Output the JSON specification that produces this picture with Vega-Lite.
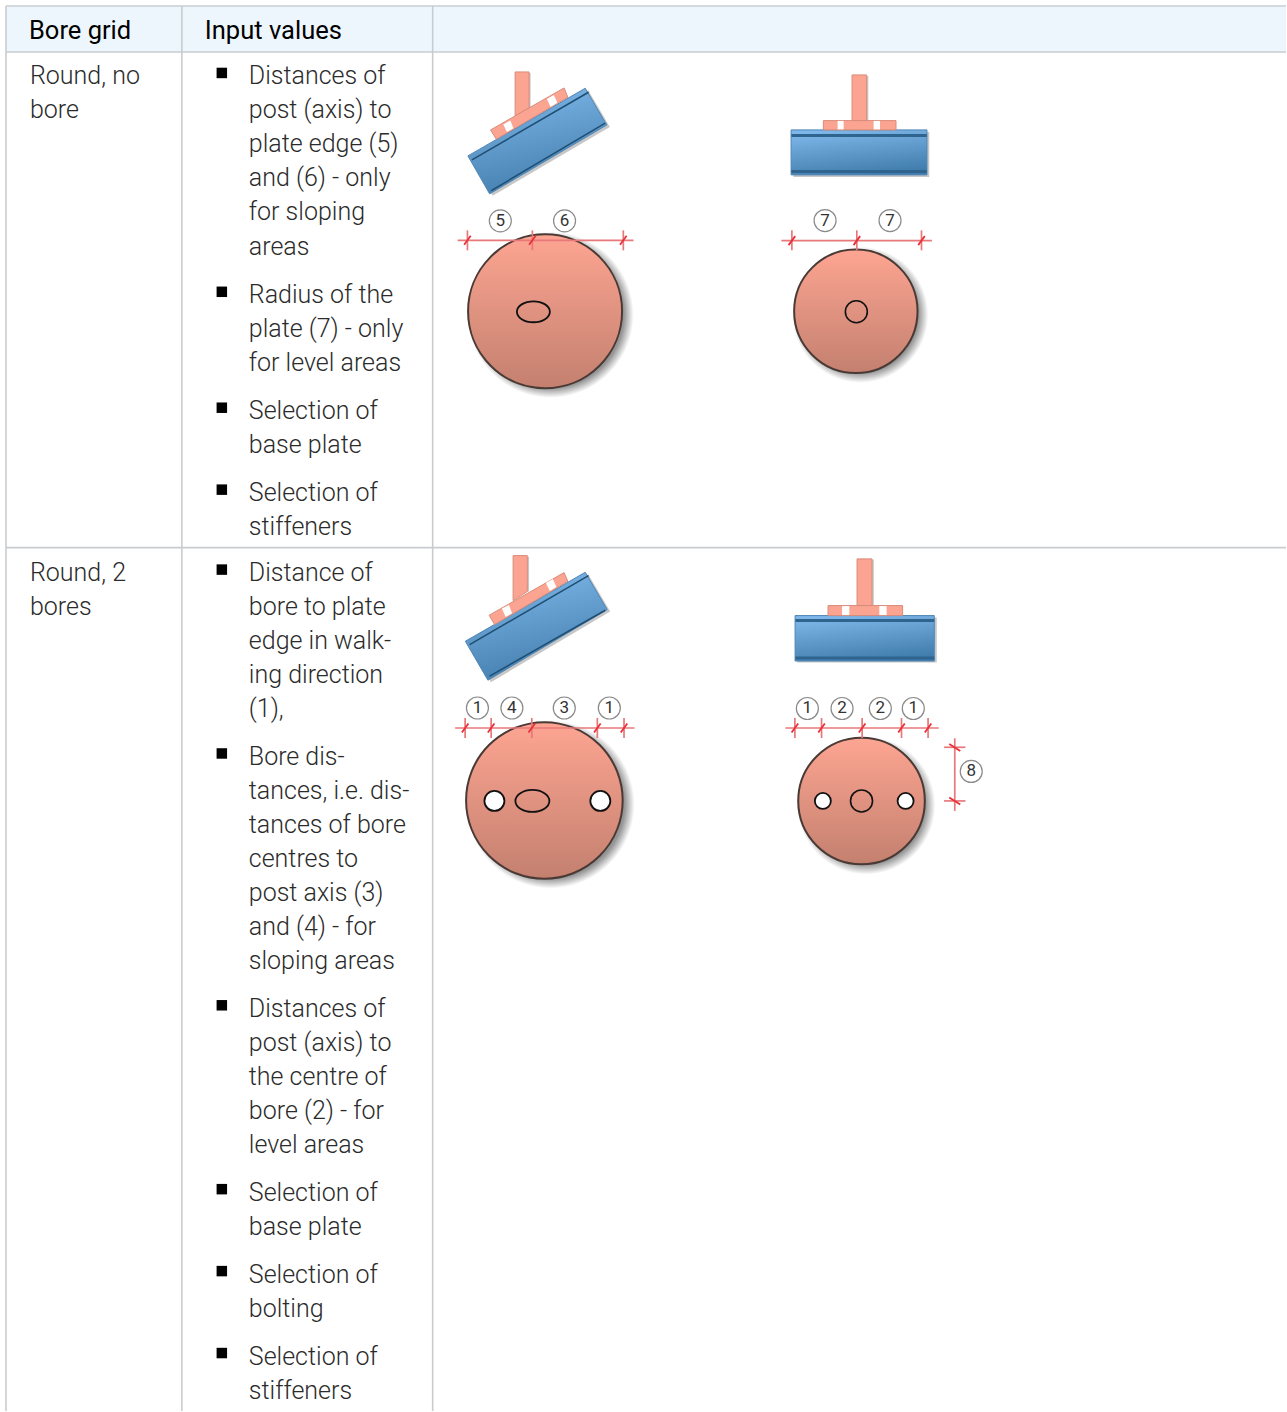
{"$schema":"https://vega.github.io/schema/vega-lite/v6.json","width":1287,"height":1412,"padding":0,"autosize":{"type":"fit","contains":"padding"},"background":"#ffffff","view":{"stroke":null},
"datasets":{
"header":[{"x":7,"x2":1287,"y":7,"y2":52}],
"grid":[{"x":6,"x2":1287,"y":6,"y2":6},{"x":6,"x2":1287,"y":52,"y2":52},{"x":6,"x2":1287,"y":548,"y2":548},{"x":6,"x2":6,"y":6,"y2":1412},{"x":182,"x2":182,"y":6,"y2":1412},{"x":433,"x2":433,"y":6,"y2":1412}],
"bullets":[{"x":222,"y":73},{"x":222,"y":292},{"x":222,"y":408},{"x":222,"y":490},{"x":222,"y":570},{"x":222,"y":754},{"x":222,"y":1006},{"x":222,"y":1190},{"x":222,"y":1272},{"x":222,"y":1354}],
"heads":[{"x":29,"y":39,"t":"Bore grid"},{"x":205,"y":39,"t":"Input values"}],
"body":[{"x":30,"y":84,"t":"Round, no"},{"x":30,"y":118,"t":"bore"},{"x":30,"y":581,"t":"Round, 2"},{"x":30,"y":615,"t":"bores"},
{"x":249,"y":84,"t":"Distances of"},{"x":249,"y":118,"t":"post (axis) to"},{"x":249,"y":152,"t":"plate edge (5)"},{"x":249,"y":186,"t":"and (6) - only"},{"x":249,"y":220,"t":"for sloping"},{"x":249,"y":255,"t":"areas"},{"x":249,"y":303,"t":"Radius of the"},{"x":249,"y":337,"t":"plate (7) - only"},{"x":249,"y":371,"t":"for level areas"},{"x":249,"y":419,"t":"Selection of"},{"x":249,"y":453,"t":"base plate"},{"x":249,"y":501,"t":"Selection of"},{"x":249,"y":535,"t":"stiffeners"},
{"x":249,"y":581,"t":"Distance of"},{"x":249,"y":615,"t":"bore to plate"},{"x":249,"y":649,"t":"edge in walk-"},{"x":249,"y":683,"t":"ing direction"},{"x":249,"y":718,"t":"(1),"},{"x":249,"y":766,"t":"Bore dis-"},{"x":249,"y":800,"t":"tances, i.e. dis-"},{"x":249,"y":834,"t":"tances of bore"},{"x":249,"y":868,"t":"centres to"},{"x":249,"y":902,"t":"post axis (3)"},{"x":249,"y":936,"t":"and (4) - for"},{"x":249,"y":970,"t":"sloping areas"},{"x":249,"y":1018,"t":"Distances of"},{"x":249,"y":1052,"t":"post (axis) to"},{"x":249,"y":1086,"t":"the centre of"},{"x":249,"y":1120,"t":"bore (2) - for"},{"x":249,"y":1154,"t":"level areas"},{"x":249,"y":1202,"t":"Selection of"},{"x":249,"y":1236,"t":"base plate"},{"x":249,"y":1284,"t":"Selection of"},{"x":249,"y":1318,"t":"bolting"},{"x":249,"y":1366,"t":"Selection of"},{"x":249,"y":1400,"t":"stiffeners"}],
"beamShadow":[
{"s":"a","i":0,"x":471.3,"y":158},{"s":"a","i":1,"x":588.7,"y":90.3},{"s":"a","i":2,"x":610.3,"y":127},{"s":"a","i":3,"x":493,"y":196},
{"s":"b","i":0,"x":794,"y":132},{"s":"b","i":1,"x":930,"y":132},{"s":"b","i":2,"x":930,"y":177},{"s":"b","i":3,"x":794,"y":177},
{"s":"c","i":0,"x":468.7,"y":643.7},{"s":"c","i":1,"x":588.7,"y":574.7},{"s":"c","i":2,"x":610.7,"y":612},{"s":"c","i":3,"x":491.3,"y":682.7},
{"s":"d","i":0,"x":798,"y":618},{"s":"d","i":1,"x":937.5,"y":618},{"s":"d","i":2,"x":937.5,"y":663},{"s":"d","i":3,"x":798,"y":663},
{"s":"e","i":0,"x":529,"y":73},{"s":"e","i":1,"x":531,"y":73},{"s":"e","i":2,"x":531,"y":108},{"s":"e","i":3,"x":529,"y":108},
{"s":"f","i":0,"x":867,"y":76},{"s":"f","i":1,"x":869,"y":76},{"s":"f","i":2,"x":869,"y":121},{"s":"f","i":3,"x":867,"y":121},
{"s":"g","i":0,"x":527.5,"y":557},{"s":"g","i":1,"x":529.5,"y":557},{"s":"g","i":2,"x":529.5,"y":592},{"s":"g","i":3,"x":527.5,"y":592},
{"s":"h","i":0,"x":872.5,"y":560},{"s":"h","i":1,"x":874.5,"y":560},{"s":"h","i":2,"x":874.5,"y":606},{"s":"h","i":3,"x":872.5,"y":606}],
"beams":[
{"s":"a","i":0,"x":468.3,"y":156},{"s":"a","i":1,"x":585.7,"y":88.3},{"s":"a","i":2,"x":607.3,"y":125},{"s":"a","i":3,"x":490,"y":194},
{"s":"b","i":0,"x":791.7,"y":130},{"s":"b","i":1,"x":927.7,"y":130},{"s":"b","i":2,"x":927.7,"y":175},{"s":"b","i":3,"x":791.7,"y":175},
{"s":"c","i":0,"x":465.7,"y":641.7},{"s":"c","i":1,"x":585.7,"y":572.7},{"s":"c","i":2,"x":607.7,"y":610},{"s":"c","i":3,"x":488.3,"y":680.7},
{"s":"d","i":0,"x":795.7,"y":616},{"s":"d","i":1,"x":935,"y":616},{"s":"d","i":2,"x":935,"y":661.5},{"s":"d","i":3,"x":795.7,"y":661.5}],
"bandsTilted":[{"x":472.3,"y":160,"x2":589,"y2":92.3},{"x":491.7,"y":190.7,"x2":605.7,"y2":123.3},{"x":470,"y":645,"x2":589,"y2":576},{"x":490,"y":676.7,"x2":605.7,"y2":610.7}],
"bandsLevel":[{"x":792,"y":135.5,"x2":927.5,"y2":135.5},{"x":792,"y":171.5,"x2":927.5,"y2":171.5},{"x":796,"y":621,"x2":935,"y2":621},{"x":796,"y":658.5,"x2":935,"y2":658.5}],
"steel":[
{"s":"p1","i":0,"x":515.5,"y":72},{"s":"p1","i":1,"x":529.5,"y":72},{"s":"p1","i":2,"x":529.5,"y":108},{"s":"p1","i":3,"x":515.5,"y":116},
{"s":"q1","i":0,"x":491,"y":130},{"s":"q1","i":1,"x":564.5,"y":88},{"s":"q1","i":2,"x":568.3,"y":97.3},{"s":"q1","i":3,"x":496.7,"y":139.3},
{"s":"p3","i":0,"x":513.5,"y":556},{"s":"p3","i":1,"x":527.7,"y":556},{"s":"p3","i":2,"x":527.7,"y":592},{"s":"p3","i":3,"x":513.5,"y":601},
{"s":"q3","i":0,"x":489.5,"y":615.7},{"s":"q3","i":1,"x":564.5,"y":573},{"s":"q3","i":2,"x":568.3,"y":581.7},{"s":"q3","i":3,"x":495,"y":625},
{"s":"p2","i":0,"x":852.7,"y":75},{"s":"p2","i":1,"x":867.3,"y":75},{"s":"p2","i":2,"x":867.3,"y":121},{"s":"p2","i":3,"x":852.7,"y":121},
{"s":"q2","i":0,"x":824,"y":120.7},{"s":"q2","i":1,"x":896.7,"y":120.7},{"s":"q2","i":2,"x":896.7,"y":130},{"s":"q2","i":3,"x":824,"y":130},
{"s":"p4","i":0,"x":857.7,"y":559.3},{"s":"p4","i":1,"x":872.7,"y":559.3},{"s":"p4","i":2,"x":872.7,"y":606},{"s":"p4","i":3,"x":857.7,"y":606},
{"s":"q4","i":0,"x":828.7,"y":606},{"s":"q4","i":1,"x":903.3,"y":606},{"s":"q4","i":2,"x":903.3,"y":616},{"s":"q4","i":3,"x":828.7,"y":616}],
"gaps":[
{"s":"g1","i":0,"x":503.7,"y":124.5},{"s":"g1","i":1,"x":510.7,"y":120.5},{"s":"g1","i":2,"x":513.8,"y":128.3},{"s":"g1","i":3,"x":507.3,"y":132.2},
{"s":"g2","i":0,"x":547.3,"y":99},{"s":"g2","i":1,"x":554.3,"y":95},{"s":"g2","i":2,"x":557.8,"y":102.7},{"s":"g2","i":3,"x":551,"y":107},
{"s":"g3","i":0,"x":502.3,"y":609},{"s":"g3","i":1,"x":509.3,"y":605.5},{"s":"g3","i":2,"x":512.5,"y":613.7},{"s":"g3","i":3,"x":506,"y":617.5},
{"s":"g4","i":0,"x":546.3,"y":583.3},{"s":"g4","i":1,"x":553.3,"y":579.5},{"s":"g4","i":2,"x":556.8,"y":587.3},{"s":"g4","i":3,"x":550.3,"y":591.5},
{"s":"g5","i":0,"x":838.3,"y":121},{"s":"g5","i":1,"x":844.3,"y":121},{"s":"g5","i":2,"x":844.3,"y":129.5},{"s":"g5","i":3,"x":838.3,"y":129.5},
{"s":"g6","i":0,"x":874.3,"y":121},{"s":"g6","i":1,"x":880.7,"y":121},{"s":"g6","i":2,"x":880.7,"y":129.5},{"s":"g6","i":3,"x":874.3,"y":129.5},
{"s":"g7","i":0,"x":842.7,"y":606.5},{"s":"g7","i":1,"x":850,"y":606.5},{"s":"g7","i":2,"x":850,"y":615.5},{"s":"g7","i":3,"x":842.7,"y":615.5},
{"s":"g8","i":0,"x":880,"y":606.5},{"s":"g8","i":1,"x":887.3,"y":606.5},{"s":"g8","i":2,"x":887.3,"y":615.5},{"s":"g8","i":3,"x":880,"y":615.5}],
"ovals":[
{"s":"o1","i":0,"x":550.3,"y":312},{"s":"o1","i":1,"x":545.5,"y":319.4},{"s":"o1","i":2,"x":533.8,"y":322.5},{"s":"o1","i":3,"x":522.1,"y":319.4},{"s":"o1","i":4,"x":517.3,"y":312},{"s":"o1","i":5,"x":522.1,"y":304.6},{"s":"o1","i":6,"x":533.8,"y":301.5},{"s":"o1","i":7,"x":545.5,"y":304.6},
{"s":"o3","i":0,"x":549.8,"y":801.5},{"s":"o3","i":1,"x":544.8,"y":809.3},{"s":"o3","i":2,"x":532.8,"y":812.5},{"s":"o3","i":3,"x":520.8,"y":809.3},{"s":"o3","i":4,"x":515.8,"y":801.5},{"s":"o3","i":5,"x":520.8,"y":793.7},{"s":"o3","i":6,"x":532.8,"y":790.5},{"s":"o3","i":7,"x":544.8,"y":793.7}],
"dims":[{"x":458,"y":240.5,"x2":634,"y2":240.5},{"x":782,"y":240.8,"x2":932.6,"y2":240.8},{"x":455.5,"y":728.5,"x2":635,"y2":728.5},{"x":786,"y":728.5,"x2":939.5,"y2":728.5},{"x":955.5,"y":738.8,"x2":955.5,"y2":811.5},
{"x":467.8,"y":230.5,"x2":467.8,"y2":250.5},{"x":532.8,"y":230.5,"x2":532.8,"y2":250.5},{"x":623.8,"y":230.5,"x2":623.8,"y2":250.5},
{"x":792.5,"y":230.5,"x2":792.5,"y2":250.5},{"x":857.5,"y":230.5,"x2":857.5,"y2":250.5},{"x":922.2,"y":230.5,"x2":922.2,"y2":250.5},
{"x":465.5,"y":718.5,"x2":465.5,"y2":738.5},{"x":491.5,"y":718.5,"x2":491.5,"y2":738.5},{"x":532.2,"y":718.5,"x2":532.2,"y2":738.5},{"x":597.8,"y":718.5,"x2":597.8,"y2":738.5},{"x":624.5,"y":718.5,"x2":624.5,"y2":738.5},
{"x":795.5,"y":718.5,"x2":795.5,"y2":738.5},{"x":822.2,"y":718.5,"x2":822.2,"y2":738.5},{"x":862.8,"y":718.5,"x2":862.8,"y2":738.5},{"x":902.2,"y":718.5,"x2":902.2,"y2":738.5},{"x":928.8,"y":718.5,"x2":928.8,"y2":738.5},
{"x":944.8,"y":747.8,"x2":966.2,"y2":747.8},{"x":944.8,"y":801.5,"x2":966.2,"y2":801.5}],
"slashes":[{"x":464.5,"y":245,"x2":471.1,"y2":236},{"x":529.5,"y":245,"x2":536.1,"y2":236},{"x":620.5,"y":245,"x2":627.1,"y2":236},
{"x":789.2,"y":245.3,"x2":795.8,"y2":236.3},{"x":854.2,"y":245.3,"x2":860.8,"y2":236.3},{"x":918.9,"y":245.3,"x2":925.5,"y2":236.3},
{"x":462.2,"y":733,"x2":468.8,"y2":724},{"x":488.2,"y":733,"x2":494.8,"y2":724},{"x":528.9,"y":733,"x2":535.5,"y2":724},{"x":594.5,"y":733,"x2":601.1,"y2":724},{"x":621.2,"y":733,"x2":627.8,"y2":724},
{"x":792.2,"y":733,"x2":798.8,"y2":724},{"x":818.9,"y":733,"x2":825.5,"y2":724},{"x":859.5,"y":733,"x2":866.1,"y2":724},{"x":898.9,"y":733,"x2":905.5,"y2":724},{"x":925.5,"y":733,"x2":932.1,"y2":724},
{"x":950,"y":744.5,"x2":961,"y2":751.5},{"x":950,"y":798,"x2":961,"y2":805}],
"labels":[{"x":500.7,"y":221,"t":"5"},{"x":565,"y":221,"t":"6"},{"x":825.7,"y":220.7,"t":"7"},{"x":890.7,"y":220.7,"t":"7"},
{"x":477.8,"y":708.5,"t":"1"},{"x":512.3,"y":708.5,"t":"4"},{"x":564.7,"y":708.5,"t":"3"},{"x":609.8,"y":708.5,"t":"1"},
{"x":808,"y":709,"t":"1"},{"x":842.7,"y":709,"t":"2"},{"x":881,"y":709,"t":"2"},{"x":914,"y":709,"t":"1"},{"x":972,"y":772,"t":"8"}]
},
"encoding":{"x":{"field":"x","type":"quantitative","scale":{"domain":[0,1287],"nice":false,"zero":false},"axis":null},"y":{"field":"y","type":"quantitative","scale":{"domain":[1412,0],"nice":false,"zero":false},"axis":null}},
"layer":[
{"data":{"name":"header"},"mark":{"type":"rect","fill":"#eef6fd"},"encoding":{"x2":{"field":"x2"},"y2":{"field":"y2"}}},
{"data":{"name":"grid"},"mark":{"type":"rule","stroke":"#c9cccf","strokeWidth":1.6},"encoding":{"x2":{"field":"x2"},"y2":{"field":"y2"}}},
{"data":{"name":"bullets"},"mark":{"type":"point","shape":"square","filled":true,"size":110,"color":"#000000","opacity":1}},
{"data":{"name":"heads"},"mark":{"type":"text","align":"left","baseline":"alphabetic","font":"Roboto","fontSize":25.5,"fill":"#000000"},"encoding":{"text":{"field":"t"}}},
{"data":{"name":"body"},"mark":{"type":"text","align":"left","baseline":"alphabetic","font":"Roboto","fontSize":25,"fontWeight":300,"fill":"#2b2b2b"},"encoding":{"text":{"field":"t"}}},
{"data":{"name":"beamShadow"},"mark":{"type":"line","interpolate":"linear-closed","fill":"#000000","fillOpacity":0.22,"strokeWidth":0},"encoding":{"detail":{"field":"s"},"order":{"field":"i"}}},
{"data":{"name":"beams"},"mark":{"type":"line","interpolate":"linear-closed","strokeWidth":1,"stroke":"#4f86b5","fill":{"gradient":"linear","x1":0.35,"y1":0,"x2":0.65,"y2":1,"stops":[{"offset":0,"color":"#7db6e8"},{"offset":1,"color":"#3f7bab"}]}},"encoding":{"detail":{"field":"s"},"order":{"field":"i"}}},
{"data":{"name":"bandsTilted"},"mark":{"type":"rule","stroke":"#1f4e73","strokeWidth":1.5},"encoding":{"x2":{"field":"x2"},"y2":{"field":"y2"}}},
{"data":{"name":"bandsLevel"},"mark":{"type":"rule","stroke":"#2f648f","strokeWidth":3},"encoding":{"x2":{"field":"x2"},"y2":{"field":"y2"}}},
{"data":{"name":"steel"},"mark":{"type":"line","interpolate":"linear-closed","strokeWidth":1,"stroke":"#d98b7a","fill":"#fba491"},"encoding":{"detail":{"field":"s"},"order":{"field":"i"}}},
{"data":{"name":"gaps"},"mark":{"type":"line","interpolate":"linear-closed","strokeWidth":0,"fill":"#ffffff"},"encoding":{"detail":{"field":"s"},"order":{"field":"i"}}},
{"data":{"values":[{"x":551,"y":315}]},"mark":{"type":"point","filled":true,"size":27556,"opacity":1,"fill":{"gradient":"radial","x1":0.5,"y1":0.5,"x2":0.5,"y2":0.5,"r1":0,"r2":0.5,"stops":[{"offset":0.88,"color":"rgba(0,0,0,0.42)"},{"offset":1,"color":"rgba(0,0,0,0)"}]}}},
{"data":{"values":[{"x":861,"y":315}]},"mark":{"type":"point","filled":true,"size":18496,"opacity":1,"fill":{"gradient":"radial","x1":0.5,"y1":0.5,"x2":0.5,"y2":0.5,"r1":0,"r2":0.5,"stops":[{"offset":0.85,"color":"rgba(0,0,0,0.42)"},{"offset":1,"color":"rgba(0,0,0,0)"}]}}},
{"data":{"values":[{"x":551,"y":805}]},"mark":{"type":"point","filled":true,"size":28224,"opacity":1,"fill":{"gradient":"radial","x1":0.5,"y1":0.5,"x2":0.5,"y2":0.5,"r1":0,"r2":0.5,"stops":[{"offset":0.88,"color":"rgba(0,0,0,0.42)"},{"offset":1,"color":"rgba(0,0,0,0)"}]}}},
{"data":{"values":[{"x":867,"y":806}]},"mark":{"type":"point","filled":true,"size":19044,"opacity":1,"fill":{"gradient":"radial","x1":0.5,"y1":0.5,"x2":0.5,"y2":0.5,"r1":0,"r2":0.5,"stops":[{"offset":0.85,"color":"rgba(0,0,0,0.42)"},{"offset":1,"color":"rgba(0,0,0,0)"}]}}},
{"data":{"values":[{"x":545.5,"y":311.5}]},"mark":{"type":"point","size":23716,"opacity":1,"stroke":"#4a3a36","strokeWidth":2,"fill":{"gradient":"linear","x1":0,"y1":0,"x2":0,"y2":1,"stops":[{"offset":0,"color":"#fda592"},{"offset":1,"color":"#c4806f"}]}}},
{"data":{"values":[{"x":856.5,"y":311.5}]},"mark":{"type":"point","size":15228,"opacity":1,"stroke":"#4a3a36","strokeWidth":2,"fill":{"gradient":"linear","x1":0,"y1":0,"x2":0,"y2":1,"stops":[{"offset":0,"color":"#fda592"},{"offset":1,"color":"#c4806f"}]}}},
{"data":{"values":[{"x":544.8,"y":801}]},"mark":{"type":"point","size":24524,"opacity":1,"stroke":"#4a3a36","strokeWidth":2,"fill":{"gradient":"linear","x1":0,"y1":0,"x2":0,"y2":1,"stops":[{"offset":0,"color":"#fda592"},{"offset":1,"color":"#c4806f"}]}}},
{"data":{"values":[{"x":862.2,"y":801.5}]},"mark":{"type":"point","size":16028,"opacity":1,"stroke":"#4a3a36","strokeWidth":2,"fill":{"gradient":"linear","x1":0,"y1":0,"x2":0,"y2":1,"stops":[{"offset":0,"color":"#fda592"},{"offset":1,"color":"#c4806f"}]}}},
{"data":{"name":"ovals"},"mark":{"type":"line","interpolate":"cardinal-closed","stroke":"#111111","strokeWidth":1.8},"encoding":{"detail":{"field":"s"},"order":{"field":"i"}}},
{"data":{"values":[{"x":857,"y":312},{"x":862.2,"y":801.5}]},"mark":{"type":"point","size":484,"opacity":1,"fill":"transparent","stroke":"#111111","strokeWidth":1.6}},
{"data":{"values":[{"x":494.8,"y":801.5},{"x":600.8,"y":801.5}]},"mark":{"type":"point","size":400,"opacity":1,"fill":"#ffffff","stroke":"#111111","strokeWidth":1.8}},
{"data":{"values":[{"x":823.5,"y":801.5},{"x":906.3,"y":801.5}]},"mark":{"type":"point","size":256,"opacity":1,"fill":"#ffffff","stroke":"#111111","strokeWidth":1.8}},
{"data":{"name":"dims"},"mark":{"type":"rule","stroke":"#e8787a","strokeWidth":1.7},"encoding":{"x2":{"field":"x2"},"y2":{"field":"y2"}}},
{"data":{"name":"slashes"},"mark":{"type":"rule","stroke":"#e8303a","strokeWidth":1.8},"encoding":{"x2":{"field":"x2"},"y2":{"field":"y2"}}},
{"data":{"name":"labels"},"mark":{"type":"point","size":484,"opacity":1,"fill":"#ffffff","stroke":"#8a8a8a","strokeWidth":1.2}},
{"data":{"name":"labels"},"mark":{"type":"text","align":"center","baseline":"middle","font":"Roboto","fontSize":17,"fill":"#333333"},"encoding":{"text":{"field":"t"}}}
]}
